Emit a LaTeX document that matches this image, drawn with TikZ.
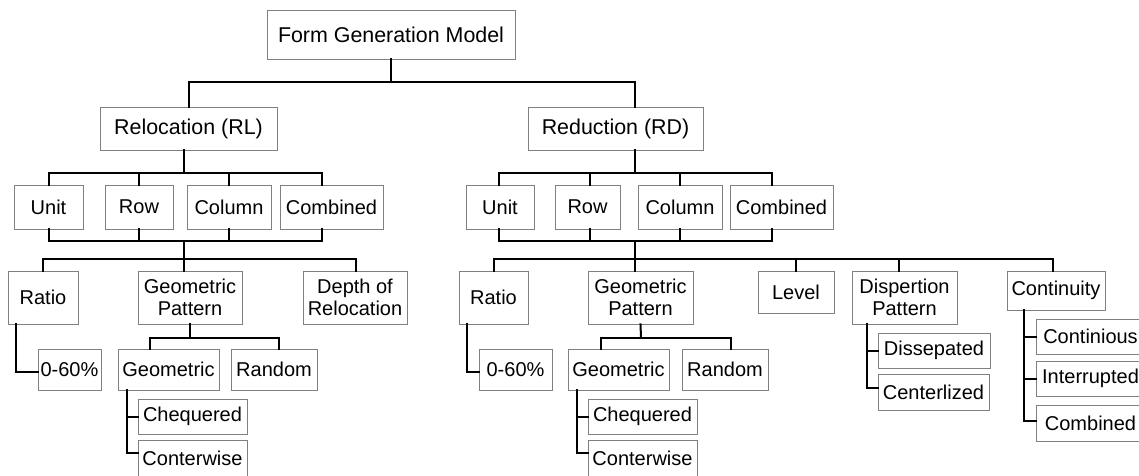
\documentclass[tikz,border=0pt]{standalone}
\usepackage{fontspec}
\setmainfont{Liberation Sans}
\begin{document}
\begin{tikzpicture}[x=1pt,y=-1pt,
  box/.style={draw=black!50, line width=0.8pt, inner sep=0pt, align=center,
    font=\fontsize{20}{21.5}\selectfont, text=black},
  bigbox/.style={box, font=\fontsize{21.4}{23}\selectfont},
  conn/.style={draw=black, line width=2pt, line cap=rect},
]
\useasboundingbox (0,0) rectangle (1139,475);
% level 1
\node[bigbox, minimum width=248pt, minimum height=49pt] (fgm) at (391,34.5) {Form Generation Model};
% level 2
\node[bigbox, minimum width=177pt, minimum height=43pt] (rl) at (188.5,128.5) {Relocation (RL)};
\node[bigbox, minimum width=175pt, minimum height=43pt] (rd) at (615.5,128.5) {Reduction (RD)};
% level 3
\node[box, minimum width=69pt, minimum height=44pt] (rlunit) at (48.5,207) {Unit};
\node[box, minimum width=68pt, minimum height=44pt] (rlrow) at (139,207) {Row};
\node[box, minimum width=84pt, minimum height=44pt] (rlcol) at (229,207) {Column};
\node[box, minimum width=103pt, minimum height=44pt] (rlcomb) at (331.5,207) {Combined};
\node[box, minimum width=68pt, minimum height=44pt] (rdunit) at (500,207) {Unit};
\node[box, minimum width=65pt, minimum height=44pt] (rdrow) at (587.5,207) {Row};
\node[box, minimum width=84pt, minimum height=44pt] (rdcol) at (680,207) {Column};
\node[box, minimum width=103pt, minimum height=44pt] (rdcomb) at (781.5,207) {Combined};
% level 4
\node[box, minimum width=70pt, minimum height=53pt] (rlratio) at (43,297.5) {Ratio};
\node[box, minimum width=104pt, minimum height=53pt] (rlgp) at (190,297.5) {Geometric\\Pattern};
\node[box, minimum width=104pt, minimum height=53pt] (rldepth) at (355,297.5) {Depth of\\Relocation};
\node[box, minimum width=69pt, minimum height=53pt] (rdratio) at (493.5,297.5) {Ratio};
\node[box, minimum width=105pt, minimum height=53pt] (rdgp) at (640.5,297.5) {Geometric\\Pattern};
\node[box, minimum width=76pt, minimum height=42pt] (rdlevel) at (796,292) {Level};
\node[box, minimum width=105pt, minimum height=53pt] (rddisp) at (904.5,297.5) {Dispertion\\Pattern};
\node[box, minimum width=98pt, minimum height=39pt] (rdcont) at (1056,290.5) {Continuity};
% level 5
\node[box, minimum width=63pt, minimum height=41pt] (rlpct) at (69.5,369.5) {0-60\%};
\node[box, minimum width=101pt, minimum height=41pt] (rlgeo) at (168.5,369.5) {Geometric};
\node[box, minimum width=86pt, minimum height=41pt] (rlrand) at (274,369.5) {Random};
\node[box, minimum width=73pt, minimum height=41pt] (rdpct) at (515.5,369.5) {0-60\%};
\node[box, minimum width=101pt, minimum height=41pt] (rdgeo) at (618.5,369.5) {Geometric};
\node[box, minimum width=86pt, minimum height=41pt] (rdrand) at (725,369.5) {Random};
% level 6
\node[box, minimum width=109pt, minimum height=35pt] (rlcheq) at (192.5,416.5) {Chequered};
\node[box, minimum width=109pt, minimum height=36pt] (rlcontw) at (192.5,458) {Conterwise};
\node[box, minimum width=109pt, minimum height=35pt] (rdcheq) at (642.5,416.5) {Chequered};
\node[box, minimum width=109pt, minimum height=36pt] (rdcontw) at (642.5,458) {Conterwise};
\node[box, minimum width=112pt, minimum height=35pt] (dissep) at (934,350.5) {Dissepated};
\node[box, minimum width=111pt, minimum height=36pt] (centr) at (933.5,392) {Centerlized};
\node[box, minimum width=109pt, minimum height=35pt] (contin) at (1090.5,336.5) {Continious};
\node[box, minimum width=109pt, minimum height=35pt] (interr) at (1090.5,378.5) {Interrupted};
\node[box, minimum width=109pt, minimum height=36pt] (combc) at (1090.5,423) {Combined};

% junction coordinates
\coordinate (j1) at (391,82);
\coordinate (jrl) at (184,173);
\coordinate (jrd) at (635,173);
\coordinate (jrl2) at (184,241);
\coordinate (jrd2) at (635,241);
\coordinate (jrl3) at (184,258.5);
\coordinate (jrd3) at (635,258.5);
\coordinate (jrlgp) at (190,338);
\coordinate (jrdgp) at (641,337.5);

% level 1 -> 2
\draw[conn] (fgm.south) -- (j1);
\draw[conn] (rl.north) |- (j1) -| (rd.north -| jrd);
% RL -> children
\draw[conn] ([xshift=-4.5pt]rl.south) -- (jrl);
\draw[conn] (rlunit.north) |- (jrl);
\draw[conn] (rlrow.north) -- (rlrow.north |- jrl);
\draw[conn] (rlcol.north) -- (rlcol.north |- jrl);
\draw[conn] ([xshift=-9.5pt]rlcomb.north) |- (jrl);
% RD -> children
\draw[conn] (rd.south -| jrd) -- (jrd);
\draw[conn] ([xshift=-1pt]rdunit.north) |- (jrd);
\draw[conn] ([xshift=2pt]rdrow.north) -- ([xshift=2pt]rdrow.north |- jrd);
\draw[conn] (rdcol.north) -- (rdcol.north |- jrd);
\draw[conn] ([xshift=-9.5pt]rdcomb.north) |- (jrd);
% RL children -> bus
\draw[conn] (rlunit.south) |- (jrl2);
\draw[conn] (rlrow.south) -- (rlrow.south |- jrl2);
\draw[conn] (rlcol.south) -- (rlcol.south |- jrl2);
\draw[conn] ([xshift=-9.5pt]rlcomb.south) |- (jrl2);
\draw[conn] (jrl2) -- (jrl3);
% RD children -> bus
\draw[conn] ([xshift=-1pt]rdunit.south) |- (jrd2);
\draw[conn] ([xshift=2pt]rdrow.south) -- ([xshift=2pt]rdrow.south |- jrd2);
\draw[conn] (rdcol.south) -- (rdcol.south |- jrd2);
\draw[conn] ([xshift=-9.5pt]rdcomb.south) |- (jrd2);
\draw[conn] (jrd2) -- (jrd3);
% RL level 4
\draw[conn] (rlratio.north) |- (jrl3);
\draw[conn] (rlgp.north -| jrl3) -- (jrl3);
\draw[conn] ([xshift=1pt]rldepth.north) |- (jrl3);
% RD level 4
\draw[conn] (rdratio.north) |- (jrd3);
\draw[conn] (rdgp.north -| jrd3) -- (jrd3);
\draw[conn] (rdlevel.north) -- (rdlevel.north |- jrd3);
\draw[conn] ([xshift=-5.5pt]rddisp.north) -- ([xshift=-5.5pt]rddisp.north |- jrd3);
\draw[conn] ([xshift=-3pt]rdcont.north) |- (jrd3);
% ratio -> 0-60%
\draw[conn] ([xshift=-27pt]rlratio.south) |- ([yshift=-2.5pt]rlpct.west);
\draw[conn] ([xshift=-26.5pt]rdratio.south) |- ([yshift=-2.5pt]rdpct.west);
% geometric pattern -> geometric / random
\draw[conn] (rlgp.south) -- (jrlgp);
\draw[conn] ([xshift=-18.5pt]rlgeo.north) |- (jrlgp);
\draw[conn] ([xshift=5pt]rlrand.north) |- (jrlgp);
\draw[conn] (rdgp.south) -- (jrdgp);
\draw[conn] ([xshift=-17.5pt]rdgeo.north) |- (jrdgp);
\draw[conn] ([xshift=6pt]rdrand.north) |- (jrdgp);
% geometric -> chequered / conterwise
\draw[conn] ([xshift=-41.5pt]rlgeo.south) |- (rlcheq.west);
\draw[conn] ([xshift=-41.5pt]rlgeo.south) |- ([yshift=5pt]rlcontw.west);
\draw[conn] ([xshift=-41.5pt]rdgeo.south) |- (rdcheq.west);
\draw[conn] ([xshift=-41.5pt]rdgeo.south) |- ([yshift=5pt]rdcontw.west);
% dispertion
\draw[conn] ([xshift=-37.5pt]rddisp.south) |- (dissep.west);
\draw[conn] ([xshift=-37.5pt]rddisp.south) |- ([yshift=4pt]centr.west);
% continuity
\draw[conn] ([xshift=-32pt]rdcont.south) |- (contin.west);
\draw[conn] ([xshift=-32pt]rdcont.south) |- (interr.west);
\draw[conn] ([xshift=-32pt]rdcont.south) |- ([yshift=2pt]combc.west);
\end{tikzpicture}
\end{document}
